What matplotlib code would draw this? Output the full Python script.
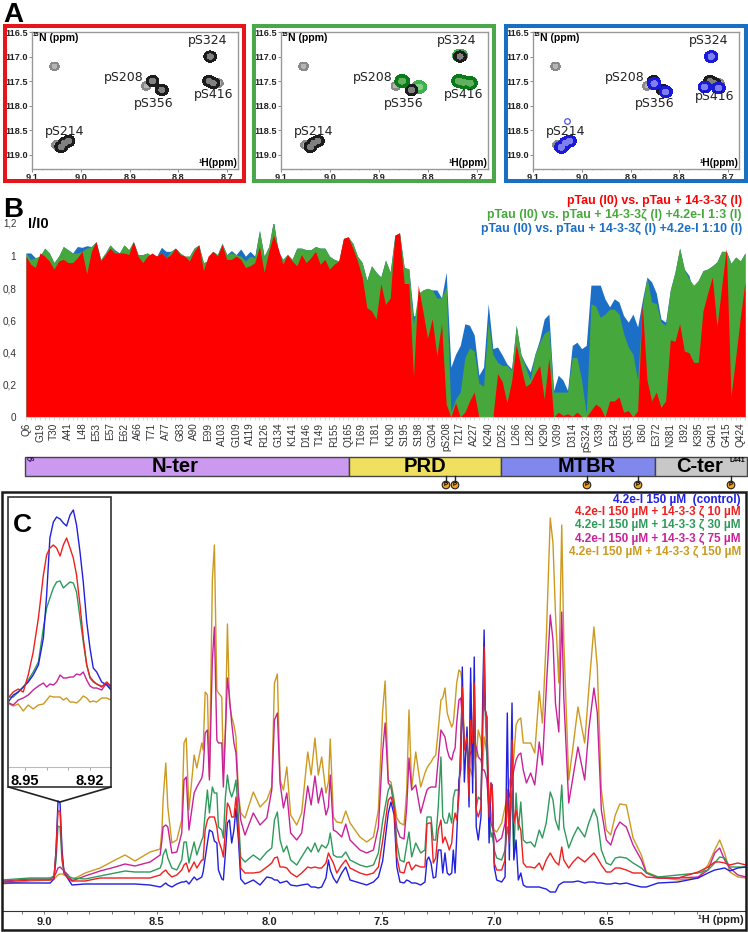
import numpy as np
import matplotlib
matplotlib.use("Agg")
import matplotlib.pyplot as plt
from matplotlib.patches import Rectangle, Circle

plt.rcParams['font.family'] = ['Liberation Sans', 'DejaVu Sans']

W, H = 748, 932

# panel A: peak positions (1H ppm, 15N ppm)
black_h = [8.735, 8.853, 8.834, 8.737, 8.729, 9.025, 9.033, 9.040]
black_n = [117.0, 117.5, 117.68, 117.5, 117.54, 118.72, 118.76, 118.84]
grey_h = [9.054, 8.866, 8.718, 9.050, 9.042]
grey_n = [117.2, 117.6, 117.54, 118.8, 118.85]
green_h = [8.735, 8.853, 8.818, 8.737, 8.728, 8.715]
green_n = [116.98, 117.5, 117.62, 117.5, 117.52, 117.54]
blue_h = [8.735, 8.852, 8.828, 8.748, 8.72, 9.025, 9.033, 9.042, 9.03]
blue_n = [117.0, 117.55, 117.72, 117.62, 117.64, 118.72, 118.76, 118.85, 118.32]
peak_names = ['pS324', 'pS208', 'pS356', 'pS416', 'pS214']
name_h = [8.741, 8.912, 8.850, 8.727, 9.034]
name_n = [116.67, 117.42, 117.96, 117.77, 118.53]

# panel B: intensity ratios per assigned residue
residues = ['Q6', 'G19', 'T30', 'A41', 'L48', 'E53', 'E57', 'E62', 'A66', 'T71', 'A77', 'G83', 'A90',
            'E99', 'A103', 'G109', 'A119', 'R126', 'G134', 'K141', 'D146', 'T149', 'R155', 'Q165',
            'T169', 'T181', 'K190', 'S195', 'S198', 'G204', 'pS208', 'T217', 'A227', 'K240', 'D252',
            'L266', 'L282', 'K290', 'V309', 'D314', 'pS324', 'V339', 'E342', 'Q351', 'I360', 'E372',
            'N381', 'I392', 'K395', 'G401', 'G415', 'Q424']
ratio_red = [1.00, .95, .93, 1.02, 1.00, .97, .92, .97, .98, .96,
             .96, .99, 1.03, .89, 1.03, 1.09, .97, 1.01, 1.05, 1.02,
             1.02, 1.02, 1.01, 1.09, 1.00, .96, 1.00, 1.02, 1.00, 1.02,
             .99, 1.01, 1.05, 1.01, 1.00, .97, 1.03, 1.07, .91, 1.00,
             1.03, 1.00, 1.07, .98, .98, 1.00, .98, .93, .94, .96,
             1.06, .90, 1.03, 1.13, 1.05, .95, 1.01, .97, .94, 1.01,
             .96, .99, 1.03, .95, .98, .92, .95, .97, 1.11, 1.12,
             1.05, .97, .87, .68, .66, .61,
             .83, .70, .74, 1.13, 1.145, .83, .83, .25, .82, .66,
             .49, .61, .38, .58, .08, 0, .09, 0, .03, .10,
             .155, 0, 0, 0, 0, .27, .22, .09, .22, .45,
             .31, .19, .21, .27, .32, .11, .37, 0, .03, .01,
             .02, .005, .03, .005, 0, .04, .08, .06, 0, .10,
             .10, .125, .03, .04, 0, .04, .70, .23, .10, .155,
             .06, .10, .48, .47, .58, .41, .40, .34, .34, .66,
             .77, .87, .56, .81, 1.05, .125, .37, .62, .84]
ratio_green = [1.02, .98, .99, 1.00, 1.05, 1.02, .96, 1.00, 1.06, 1.04,
               1.02, 1.02, 1.03, 1.05, 1.06, 1.09, .98, 1.02, 1.07, 1.03,
               1.02, 1.07, 1.04, 1.09, 1.01, 1.01, 1.02, 1.00, 1.00, 1.02,
               .99, 1.03, 1.05, 1.02, 1.00, 1.00, 1.05, 1.07, .96, .97,
               1.03, 1.01, 1.08, 1.01, 1.02, 1.01, 1.00, .97, 1.00, .99,
               1.16, 1.00, 1.06, 1.22, 1.03, .98, 1.01, .98, 1.05, 1.05,
               1.04, 1.04, 1.06, 1.05, 1.05, 1.00, .98, .97, 1.11, 1.12,
               1.08, 1.00, .96, .85, .94, .90,
               .87, .975, .90, 1.13, 1.145, .93, .92, .58, .77, .79,
               .80, .79, .74, .74, .81, .03, .11, .155, .37, .43,
               .41, .21, .19, .59, .39, .34, .32, .32, .29, .57,
               .39, .31, .23, .39, .46, .52, .54, .155, .155, .155,
               .155, .37, .37, .23, .02, .705, .69, .62, .64, .67,
               .67, .64, .52, .435, .39, .23, .685, .87, .715, .705,
               .59, .57, .79, .90, 1.05, .92, .86, .82, .85, .91,
               .92, .94, .965, 1.03, 1.03, .955, .995, .97, 1.02]
ratio_blue = [1.02, 1.02, .99, 1.00, 1.05, 1.02, .96, 1.00, 1.06, 1.04,
              1.02, 1.06, 1.055, 1.065, 1.06, 1.09, .98, 1.02, 1.07, 1.04,
              1.02, 1.07, 1.04, 1.09, 1.01, 1.01, 1.02, 1.00, 1.00, 1.055,
              1.03, 1.03, 1.05, 1.02, 1.00, 1.00, 1.05, 1.07, .96, .97,
              1.03, 1.01, 1.08, 1.01, 1.035, 1.01, 1.045, 1.00, 1.03, 1.00,
              1.16, 1.00, 1.06, 1.22, 1.03, .98, 1.01, .98, 1.05, 1.05,
              1.04, 1.04, 1.06, 1.05, 1.05, 1.00, .98, .97, 1.11, 1.12,
              1.08, 1.00, .96, .85, .94, .90,
              .87, .975, .90, 1.13, 1.145, .93, .92, .63, .63, .79,
              .80, .79, .79, .74, .90, .31, .39, .445, .58, .57,
              .51, .26, .31, .705, .425, .435, .385, .33, .30, .57,
              .39, .33, .28, .39, .48, .61, .64, .165, .26, .23,
              .165, .445, .465, .425, .445, .82, .82, .82, .735, .685,
              .735, .715, .63, .59, .64, .56, .725, .87, .84, .77,
              .61, .59, .79, .90, 1.05, .92, .88, .77, .85, .91,
              .92, .94, .965, 1.03, 1.03, .955, .995, .97, 1.02]

# panel C: 1H spectra, shared ppm grid
ppm = [9.187, 9.062, 8.973, 8.956, 8.947, 8.938, 8.929, 8.920, 8.911, 8.893,
       8.876, 8.818, 8.751, 8.684, 8.640, 8.596, 8.529, 8.484, 8.476, 8.471,
       8.459, 8.450, 8.432, 8.410, 8.388, 8.378, 8.368, 8.356, 8.333, 8.321,
       8.299, 8.293, 8.284, 8.274, 8.265, 8.252, 8.243, 8.232, 8.225, 8.210,
       8.203, 8.194, 8.185, 8.176, 8.166, 8.156, 8.147, 8.136, 8.126, 8.107,
       8.070, 8.040, 8.010, 7.988, 7.976, 7.963, 7.951, 7.936, 7.921, 7.904,
       7.877, 7.855, 7.828, 7.813, 7.796, 7.781, 7.766, 7.747, 7.736, 7.728,
       7.714, 7.699, 7.677, 7.659, 7.640, 7.596, 7.566, 7.536, 7.514, 7.495,
       7.484, 7.470, 7.458, 7.444, 7.432, 7.418, 7.400, 7.388, 7.378, 7.366,
       7.348, 7.326, 7.307, 7.298, 7.290, 7.280, 7.270, 7.259, 7.248, 7.236,
       7.228, 7.218, 7.208, 7.199, 7.188, 7.181, 7.173, 7.166, 7.156, 7.148,
       7.141, 7.132, 7.120, 7.111, 7.104, 7.095, 7.088, 7.079, 7.070, 7.058,
       7.050, 7.044, 7.039, 7.032, 7.022, 7.013, 7.008, 6.999, 6.988, 6.966,
       6.951, 6.941, 6.932, 6.920, 6.912, 6.902, 6.892, 6.881, 6.870, 6.856,
       6.837, 6.819, 6.799, 6.785, 6.768, 6.750, 6.738, 6.727, 6.712, 6.699,
       6.690, 6.668, 6.649, 6.627, 6.597, 6.579, 6.556, 6.541, 6.523, 6.501,
       6.481, 6.461, 6.441, 6.412, 6.382, 6.345, 6.323, 6.271, 6.182, 6.093,
       6.049, 6.019, 5.997, 5.975, 5.952, 5.916, 5.880]
spec_control = [28, 28, 28, 32, 60, 110, 108, 60, 38, 32,
                26, 27, 27, 27, 27, 27, 26, 24, 25, 26,
                28, 26, 24, 27, 29, 29, 30, 27, 34, 31,
                34, 39, 53, 68, 81, 79, 70, 68, 41, 32,
                31, 58, 88, 91, 68, 81, 103, 71, 32, 27,
                31, 26, 34, 33, 31, 31, 28, 29, 30, 26,
                25, 26, 27, 24, 24, 23, 24, 33, 51, 41,
                33, 28, 38, 44, 31, 28, 26, 29, 34, 50,
                71, 98, 109, 96, 44, 29, 28, 31, 30, 28,
                28, 26, 29, 51, 54, 48, 33, 34, 61, 61,
                38, 58, 38, 36, 38, 61, 38, 74, 131, 141,
                244, 129, 184, 104, 243, 118, 254, 84, 71, 94,
                218, 281, 201, 194, 68, 128, 126, 44, 31, 29,
                34, 198, 51, 208, 51, 71, 31, 38, 26, 24,
                24, 24, 24, 23, 22, 19, 19, 19, 26, 28,
                29, 29, 29, 30, 28, 29, 29, 28, 28, 27,
                27, 28, 27, 28, 26, 24, 24, 28, 29, 33,
                38, 41, 42, 43, 40, 43, 44]
spec_10 = [29, 31, 31, 32, 60, 100, 100, 55, 38, 33,
           30, 30, 33, 33, 33, 33, 33, 36, 38, 39,
           41, 38, 34, 36, 41, 46, 48, 39, 49, 43,
           51, 51, 81, 91, 94, 94, 94, 84, 71, 61,
           54, 81, 108, 104, 94, 94, 114, 81, 43, 38,
           38, 39, 44, 48, 53, 54, 44, 44, 43, 38,
           34, 38, 44, 43, 44, 43, 43, 48, 58, 54,
           48, 38, 46, 51, 43, 38, 36, 38, 44, 70,
           88, 111, 114, 103, 54, 39, 38, 48, 49, 41,
           46, 44, 44, 87, 88, 88, 48, 53, 81, 91,
           68, 74, 68, 61, 68, 88, 98, 91, 114, 161,
           224, 161, 174, 114, 191, 168, 228, 101, 94, 104,
           184, 264, 201, 194, 94, 128, 124, 48, 41, 41,
           51, 121, 68, 171, 88, 101, 88, 81, 48, 44,
           44, 43, 48, 41, 51, 58, 53, 49, 46, 64,
           51, 43, 49, 54, 49, 53, 58, 53, 46, 39,
           39, 43, 43, 41, 38, 38, 34, 33, 33, 39,
           44, 49, 49, 48, 46, 48, 46]
spec_30 = [31, 33, 33, 35, 50, 85, 84, 50, 38, 35,
           33, 32, 35, 38, 40, 39, 39, 43, 48, 56,
           62, 53, 43, 41, 51, 69, 69, 48, 69, 56,
           71, 74, 98, 121, 98, 124, 118, 118, 84, 81,
           73, 114, 136, 121, 114, 121, 131, 94, 54, 49,
           56, 51, 59, 63, 91, 99, 71, 59, 65, 51,
           46, 54, 64, 59, 68, 59, 66, 63, 68, 78,
           56, 54, 54, 59, 51, 46, 44, 46, 58, 90,
           104, 121, 126, 108, 68, 51, 49, 66, 79, 54,
           68, 58, 61, 94, 94, 94, 71, 71, 104, 154,
           94, 88, 88, 98, 88, 113, 121, 121, 121, 171,
           208, 168, 168, 141, 228, 141, 201, 104, 114, 111,
           194, 221, 198, 154, 94, 74, 78, 61, 53, 51,
           61, 84, 71, 121, 54, 118, 81, 109, 71, 68,
           69, 64, 81, 73, 88, 119, 111, 91, 81, 126,
           84, 63, 74, 84, 74, 88, 102, 93, 61, 48,
           46, 53, 54, 53, 48, 43, 38, 34, 36, 38,
           41, 48, 54, 53, 44, 44, 44]
spec_75 = [30, 32, 32, 34, 38, 43, 44, 42, 40, 36,
           30, 35, 40, 44, 47, 45, 49, 56, 71, 84,
           86, 84, 58, 59, 78, 131, 134, 81, 118, 124,
           133, 141, 178, 181, 131, 251, 284, 171, 168, 168,
           124, 178, 233, 214, 188, 168, 158, 114, 91, 76,
           98, 86, 93, 121, 191, 198, 128, 103, 118, 78,
           71, 78, 125, 106, 135, 108, 123, 96, 104, 136,
           81, 79, 74, 87, 71, 61, 58, 61, 84, 160,
           188, 128, 124, 104, 83, 74, 72, 104, 153, 121,
           126, 98, 114, 121, 123, 124, 124, 124, 151, 181,
           178, 174, 161, 154, 151, 158, 163, 188, 211, 213,
           194, 168, 161, 154, 158, 161, 168, 164, 154, 151,
           141, 141, 138, 131, 101, 88, 84, 78, 69, 73,
           88, 121, 114, 131, 141, 151, 156, 158, 141, 128,
           138, 126, 169, 146, 221, 296, 271, 208, 179, 299,
           214, 108, 134, 164, 131, 181, 223, 198, 101, 71,
           66, 81, 89, 84, 66, 51, 38, 33, 33, 34,
           41, 58, 63, 51, 43, 36, 34]
spec_150 = [27, 30, 31, 32, 34, 36, 37, 37, 36, 34,
            31, 38, 43, 51, 56, 50, 59, 62, 81, 111,
            148, 104, 68, 71, 91, 168, 173, 101, 156, 143,
            168, 161, 219, 216, 134, 331, 366, 221, 218, 214,
            138, 181, 287, 208, 194, 186, 174, 118, 98, 93,
            119, 104, 111, 124, 228, 237, 131, 121, 144, 96,
            86, 98, 159, 136, 173, 136, 154, 118, 129, 172,
            94, 89, 88, 100, 88, 74, 69, 74, 101, 200,
            230, 131, 129, 111, 93, 88, 86, 121, 201, 123,
            159, 124, 138, 143, 146, 149, 153, 156, 181, 211,
            213, 223, 198, 191, 184, 188, 208, 228, 241, 239,
            228, 168, 158, 144, 141, 134, 188, 154, 181, 171,
            144, 174, 168, 158, 118, 98, 88, 81, 79, 88,
            104, 114, 128, 141, 154, 186, 191, 193, 168, 168,
            168, 158, 220, 188, 271, 393, 368, 298, 228, 386,
            271, 131, 164, 204, 168, 221, 284, 244, 121, 81,
            76, 96, 107, 106, 73, 56, 39, 34, 31, 33,
            46, 61, 71, 58, 39, 34, 33]

# panel C inset: zoom on the 8.93 ppm signal
zoom_ppm = [8.9574, 8.9554, 8.9531, 8.9508, 8.9485, 8.9462, 8.9438, 8.9415, 8.94, 8.9385,
            8.9369, 8.9354, 8.9338, 8.9323, 8.9308, 8.9292, 8.9277, 8.9262, 8.9246, 8.9231,
            8.9215, 8.92, 8.9185, 8.9169, 8.9146, 8.9123, 8.9103]
zoom_control = [69, 75, 78, 83, 88, 95, 105, 132, 175, 232, 248, 253, 251, 247, 244, 255, 260, 245,
                218, 188, 148, 122, 102, 98, 88, 85, 80]
zoom_10 = [73, 78, 81, 78, 95, 118, 152, 195, 215, 222, 225, 222, 214, 225, 232, 222, 212, 195,
           165, 132, 105, 93, 89, 86, 83, 88, 84]
zoom_30 = [73, 73, 78, 83, 90, 98, 108, 142, 162, 172, 182, 188, 189, 182, 185, 188, 187, 178,
           152, 128, 105, 92, 88, 86, 84, 86, 81]
zoom_75 = [67, 65, 70, 72, 75, 80, 84, 87, 83, 86, 85, 88, 95, 92, 92, 93, 93, 96,
           95, 98, 90, 84, 82, 82, 80, 87, 83]
zoom_150 = [66, 64, 66, 59, 65, 61, 65, 66, 70, 74, 73, 73, 73, 70, 72, 68, 68, 67,
            70, 74, 72, 68, 69, 68, 72, 72, 70]

RED, GREEN, BLUE = '#FE0000', '#46A83C', '#1B6FC6'
C_BLUE, C_RED, C_GREEN, C_MAG, C_GOLD = '#2020E0', '#EE2020', '#2E9A5C', '#C8229A', '#CC9A20'


def px_axes(x0, y0, x1, y1):
    return fig.add_axes([x0 / W, 1 - y1 / H, (x1 - x0) / W, (y1 - y0) / H])


def draw_peaks(ax, hs, ns, color, centre, sh=0.0075, sn=0.065):
    xx = np.linspace(9.1, 8.678, 400)
    yy = np.linspace(116.5, 119.29, 400)
    X, Y = np.meshgrid(xx, yy)
    Z = np.zeros_like(X)
    for h, n in zip(hs, ns):
        Z = np.maximum(Z, np.exp(-(X - h) ** 2 / (2 * sh ** 2) - (Y - n) ** 2 / (2 * sn ** 2)))
    ax.contourf(X, Y, Z, levels=[.22, .72], colors=color)
    ax.contourf(X, Y, Z, levels=[.72, 1.01], colors=centre)


fig = plt.figure(figsize=(W / 100, H / 100), dpi=100)

# overlay in pixel coordinates for frames and free text
canvas = fig.add_axes([0, 0, 1, 1], zorder=10)
canvas.set_xlim(0, W)
canvas.set_ylim(H, 0)
canvas.axis('off')
canvas.patch.set_alpha(0)

# --- panel A
frames = [(5.5, 26, 244, 181, '#E8141C'), (254, 26, 494, 181, '#4BA84A'), (506, 26, 746, 181, '#1B6FC2')]
boxes = [(32, 32, 238, 169), (281, 32, 488, 169), (533, 32, 739, 169)]
for i, (b, f) in enumerate(zip(boxes, frames)):
    canvas.add_patch(Rectangle((f[0], f[1]), f[2] - f[0], f[3] - f[1], fill=False, ec=f[4], lw=2.9))
    ax = px_axes(*b)
    ax.set_xlim(9.1, 8.678)
    ax.set_ylim(119.29, 116.5)
    draw_peaks(ax, grey_h, grey_n, '#8a8a8a', '#b5b5b5', sh=0.0055, sn=0.05)
    if i == 1:
        draw_peaks(ax, green_h[:3], green_n[:3], '#3FB04F', '#7fd07f', sh=0.0085, sn=0.075)
    draw_peaks(ax, black_h, black_n, '#1c1c1c', '#808080')
    if i == 1:
        draw_peaks(ax, green_h[1:2] + green_h[3:], green_n[1:2] + green_n[3:], '#0B7A18', '#60b060', sh=0.0085, sn=0.075)
    if i == 2:
        draw_peaks(ax, blue_h[:-1], blue_n[:-1], '#1A1AD8', '#7f7ff0', sh=0.0078, sn=0.068)
        ax.plot(blue_h[-1], blue_n[-1], 'o', ms=4, mfc='white', mec='#5050E8', mew=.9)
    for nm, h, n in zip(peak_names, name_h, name_n):
        if i == 2 and nm == 'pS416':
            n = n + 0.04
        ax.text(h, n, nm, family='DejaVu Sans', fontsize=9, color='#222222', ha='center', va='center')
    ax.set_xticks([9.1, 9.0, 8.9, 8.8, 8.7])
    ax.set_xticklabels(['9.1', '9.0', '8.9', '8.8', '8.7'])
    ax.set_xticks(np.arange(8.7, 9.1, 0.02), minor=True)
    ax.set_yticks([116.5, 117, 117.5, 118, 118.5, 119])
    ax.set_yticklabels(['116.5', '117.0', '117.5', '118.0', '118.5', '119.0'])
    ax.tick_params(axis='both', labelsize=6.6, length=2, width=.6, color='#777777', pad=1)
    ax.tick_params(axis='both', which='minor', length=1, width=.4, color='#999999')
    for t in ax.get_xticklabels() + ax.get_yticklabels():
        t.set_fontweight('bold')
        t.set_color('#222222')
    for s in ax.spines.values():
        s.set_color('#999999')
        s.set_linewidth(1)
    canvas.text(b[0] + 1, 35, '15', fontsize=4.2, fontweight='bold', va='center')
    canvas.text(b[0] + 7, 38, 'N (ppm)', fontsize=7.6, fontweight='bold', va='center')
    canvas.text(b[2] - 1, 163, '¹H(ppm)', fontsize=7.3, fontweight='bold', va='center', ha='right')
canvas.text(3, 22, 'A', fontsize=20, fontweight='bold', va='baseline')

# --- panel B
ax = px_axes(26, 224, 745, 417)
xs = np.arange(len(ratio_red))
ax.fill_between(xs, 0, ratio_blue, color=BLUE, lw=0)
ax.fill_between(xs, 0, ratio_green, color=GREEN, lw=0)
ax.fill_between(xs, 0, ratio_red, color=RED, lw=0)
ax.set_xlim(0, 154)
ax.set_ylim(0, 1.2)
for s in ['top', 'right', 'left']:
    ax.spines[s].set_visible(False)
ax.spines['bottom'].set_color('#cccccc')
ax.set_xticks(xs[::3][:len(residues)])
ax.set_xticklabels(residues, rotation=90, fontsize=7.2, color='#333333')
ax.set_xticks(xs, minor=True)
ax.tick_params(axis='x', which='both', length=2, width=.5, color='#cccccc', pad=2)
ax.set_yticks([0, .2, .4, .6, .8, 1])
ax.set_yticklabels(['0', '0,2', '0,4', '0,6', '0,8', '1'], fontsize=7.2, color='#333333')
ax.tick_params(axis='y', length=0, pad=7)
canvas.text(3, 217, 'B', fontsize=20, fontweight='bold', va='baseline')
canvas.text(3, 224, '1,2', fontsize=7, color='#333333', va='center')
canvas.text(28, 224, 'I/I0', fontsize=10.5, fontweight='bold', va='center')
canvas.text(742, 201, 'pTau (I0) vs. pTau + 14-3-3ζ (I)', color=RED, fontsize=8.9, fontweight='bold', ha='right', va='center')
canvas.text(742, 215, 'pTau (I0) vs. pTau + 14-3-3ζ (I) +4.2e-I 1:3 (I)', color=GREEN, fontsize=8.9, fontweight='bold', ha='right', va='center')
canvas.text(742, 229, 'pTau (I0) vs. pTau + 14-3-3ζ (I) +4.2e-I 1:10 (I)', color=BLUE, fontsize=8.9, fontweight='bold', ha='right', va='center')

# domain bar
domain_names = ['N-ter', 'PRD', 'MTBR', 'C-ter']
domain_edges = [25, 349, 501, 655, 747]
domain_colors = ['#CC99F0', '#F0E060', '#8088EE', '#C8C8C8']
domain_text_x = [175, 425, 587, 700]
for k, nm in enumerate(domain_names):
    canvas.add_patch(Rectangle((domain_edges[k], 457), domain_edges[k + 1] - domain_edges[k], 19,
                               fc=domain_colors[k], ec='#444444', lw=1))
    canvas.text(domain_text_x[k], 466.5, nm, fontsize=14.5, fontweight='bold', ha='center', va='center')
canvas.text(27, 460, 'Q6', fontsize=4.5, fontweight='bold', color='#330066', va='center')
canvas.text(745, 460, 'L441', fontsize=5, fontweight='bold', ha='right', va='center')
phospho_x = [446, 455, 587, 638, 731]
for px in phospho_x:
    canvas.plot([px, px], [476, 482], color='#222222', lw=1)
    canvas.add_patch(Circle((px, 485), 3.8, fc='#F0A020', ec='#222222', lw=.8))
    canvas.text(px, 485, 'P', fontsize=4.5, fontweight='bold', ha='center', va='center')

# --- panel C
canvas.add_patch(Rectangle((2, 492), 744, 438, fill=False, ec='#1a1a1a', lw=1.8))
ax = px_axes(2, 492, 746, 911)
series = [(spec_150, C_GOLD), (spec_75, C_MAG), (spec_30, C_GREEN), (spec_control, C_BLUE), (spec_10, C_RED)]
for vals, col in series:
    ax.plot(ppm, vals, color=col, lw=1)
ax.set_xlim(9.187, 5.88)
ax.set_ylim(0, 419)
ax.set_yticks([])
for s in ['top', 'right', 'left']:
    ax.spines[s].set_visible(False)
ax.spines['bottom'].set_color('#333333')
ax.set_xticks([9.0, 8.5, 8.0, 7.5, 7.0, 6.5])
ax.set_xticklabels(['9.0', '8.5', '8.0', '7.5', '7.0', '6.5'], fontsize=8, fontweight='bold', color='#222222')
ax.set_xticks(np.arange(6.0, 9.2, 0.1), minor=True)
ax.tick_params(axis='x', which='both', length=2.5, width=.6, color='#666666', pad=2)
canvas.text(744, 920, '¹H (ppm)', fontsize=8, fontweight='bold', color='#222222', ha='right', va='center')

legend_labels = ['4.2e-I 150 µM  (control)', '4.2e-I 150 µM + 14-3-3 ζ 10 µM', '4.2e-I 150 µM + 14-3-3 ζ 30 µM',
                 '4.2e-I 150 µM + 14-3-3 ζ 75 µM', '4.2e-I 150 µM + 14-3-3 ζ 150 µM']
legend_colors = [C_BLUE, C_RED, C_GREEN, C_MAG, C_GOLD]
legend_y = [500, 512, 525, 538.5, 552]
for lab, col, yy in zip(legend_labels, legend_colors, legend_y):
    canvas.text(741, yy, lab, color=col, fontsize=8.5, fontweight='bold', ha='right', va='center')

# inset
ins = px_axes(8.5, 497, 111, 767)
ins.set_zorder(5)
for vals, col in [(zoom_150, C_GOLD), (zoom_75, C_MAG), (zoom_30, C_GREEN), (zoom_control, C_BLUE), (zoom_10, C_RED)]:
    ins.plot(zoom_ppm, vals, color=col, lw=1)
ins.set_xlim(8.9576, 8.9103)
ins.set_ylim(3, 273)
ins.set_yticks([])
ins.set_xticks([8.95, 8.92])
ins.set_xticklabels(['8.95', '8.92'], fontsize=10.5, fontweight='bold')
ins.set_xticks([8.94, 8.93], minor=True)
ins.tick_params(axis='x', which='both', length=2, width=.6, color='#999999', pad=3, direction='out')
for s in ['top', 'right', 'left']:
    ins.spines[s].set_visible(False)
ins.spines['bottom'].set_color('#bbbbbb')
canvas.add_patch(Rectangle((8.5, 497), 102.5, 290, fill=False, ec='#333333', lw=1.2))
canvas.plot([8.5, 60, 111], [787, 802, 787], color='#222222', lw=1.2)
canvas.text(13, 532, 'C', fontsize=19, fontweight='bold', va='baseline')

fig.savefig('out.png', dpi=100)
